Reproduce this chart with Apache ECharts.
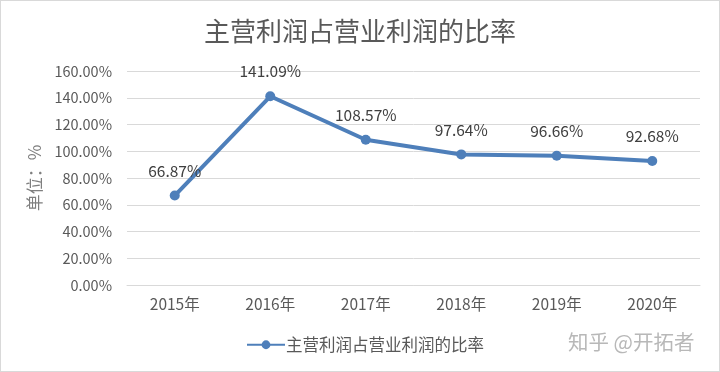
<!DOCTYPE html>
<html><head><meta charset="utf-8">
<script src="https://cdn.jsdelivr.net/npm/echarts@6/dist/echarts.min.js"></script>
<style>html,body{margin:0;padding:0;background:#fff}
#c{width:718px;height:370px;border:1px solid #d9d9d9}</style>
</head><body><div id="c"></div>
<script>
const categories = ['2015年','2016年','2017年','2018年','2019年','2020年'];
const ratioValues = [66.87, 141.09, 108.57, 97.64, 96.66, 92.68];
const seriesName = '主营利润占营业利润的比率';
const chart = echarts.init(document.getElementById('c'));
const cjk = '"Noto Sans CJK SC", "Noto Sans", sans-serif';
chart.setOption({
  animation: false,
  title: { text: seriesName, left: 'center', top: 12,
    textStyle: { fontFamily: cjk, fontSize: 26, fontWeight: 'normal', color: '#595959' } },
  grid: { left: 126, right: 19, top: 70, bottom: 86 },
  xAxis: { type: 'category', data: categories, boundaryGap: true,
    axisLine: { lineStyle: { color: '#d9d9d9' } }, axisTick: { show: false },
    axisLabel: { color: '#595959', fontSize: 15.5, fontFamily: cjk, margin: 11 } },
  yAxis: { type: 'value', min: 0, max: 160, interval: 20,
    name: '单位：%', nameLocation: 'middle', nameGap: 82, nameRotate: 90,
    nameTextStyle: { color: '#7f7f7f', fontSize: 17, fontFamily: cjk },
    axisLabel: { color: '#595959', fontSize: 14.5, fontFamily: cjk, margin: 15,
      formatter: v => v.toFixed(2) + '%' },
    splitLine: { lineStyle: { color: '#d9d9d9' } } },
  legend: { bottom: 13, left: 240, itemWidth: 38, itemHeight: 11, itemGap: 4,
    textStyle: { color: '#595959', fontSize: 16.5, fontFamily: cjk, padding: [0,0,0,-4] } },
  series: [{ name: seriesName, type: 'line', data: ratioValues,
    symbol: 'circle', symbolSize: 10,
    lineStyle: { color: '#4e7fba', width: 4 }, itemStyle: { color: '#4e7fba' },
    label: { show: true, position: 'top', distance: 12, color: '#404040', fontSize: 15.5,
      fontFamily: cjk, formatter: p => p.value.toFixed(2) + '%' } }],
  graphic: [{ type: 'text', left: 567, top: 331,
    style: { text: '知乎 @开拓者', fill: '#b8b8b8', fontSize: 20.5, fontFamily: cjk } }]
});
</script></body></html>
